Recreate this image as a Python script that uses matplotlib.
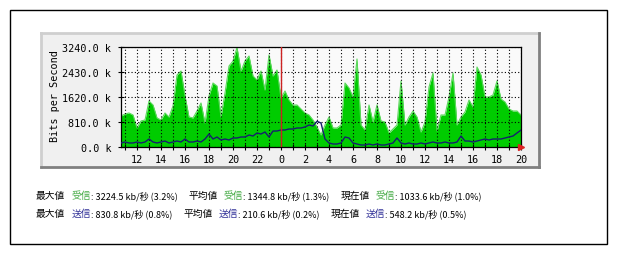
import numpy as np
import matplotlib.pyplot as plt
from matplotlib.patches import Rectangle
from matplotlib.lines import Line2D

# 20分ごとのサンプル (10:40 から翌日 20:00 まで)
hours = np.arange(101) / 3 + 32 / 3

# 受信 (kb/s)
trafico_in = [1004, 1069, 1102, 1037, 616, 842, 875, 1490, 1361, 940, 875, 1102, 972, 1328, 2333, 2462, 1652, 972, 940, 1166, 1426, 778, 1652, 2074, 1976,
              972, 1750, 2624, 2786, 3224, 2462, 2786, 2948, 2300, 2171, 2462, 1847, 2981, 2300, 2495, 1588,
              1814, 1523, 1361, 1361, 1231, 1102, 1037, 875, 648,
              389, 713, 972, 616, 616, 713, 2074, 1912, 1620, 2851, 713, 551, 1361, 810, 1361, 842, 810, 454, 583, 713, 2138, 713, 972, 1166,
              972, 486, 810, 1944, 2398, 518, 1037, 1037, 1620, 2398, 713, 972, 1134, 1523, 1296, 2592, 2333, 1620, 1620, 1685, 2138, 1555, 1458, 1231, 1166, 1166, 1034]

# 送信 (kb/s)
trafico_out = [130, 162, 130, 130, 162, 130, 162, 259, 162, 130, 162, 194, 130, 162, 194, 162, 259, 162, 162, 194, 162, 259, 421, 259, 324,
               227, 259, 227, 292, 292, 324, 324, 389, 356, 454, 421, 486, 324, 518, 518, 551,
               551, 583, 583, 616, 616, 648, 713, 680, 831,
               778, 259, 130, 97, 97, 130, 324, 292, 130, 97, 65, 65, 97, 65, 97, 65, 65, 97, 130, 292, 130, 97, 130, 97,
               97, 130, 97, 130, 162, 130, 130, 162, 130, 130, 162, 356, 194, 194, 162, 194, 227, 259, 227, 259, 259, 259, 292, 324, 356, 454, 548]

y_ticks = [0, 810, 1620, 2430, 3240]
x_ticks = list(range(12, 45, 2))
medianoche = 24

# 統計テキスト
etiquetas = ['最大値', '平均値', '現在値']
in_vals = ['3224.5', '1344.8', '1033.6']
in_pct = ['3.2', '1.3', '1.0']
out_vals = ['830.8', '210.6', '548.2']
out_pct = ['0.8', '0.2', '0.5']

W, H = 620, 255
fig = plt.figure(figsize=(W / 100, H / 100), dpi=100)
fig.patch.set_facecolor('white')

def px(x, y):
    return x / W, 1 - y / H

# borde exterior
x0, y0 = px(10, 245)
fig.add_artist(Rectangle((x0, y0), 597 / W, 234 / H, transform=fig.transFigure,
                         fill=False, edgecolor='black', lw=1, zorder=-2))

# panel gris
x0, y0 = px(41, 168)
fig.add_artist(Rectangle((x0, y0), 498 / W, 134 / H, transform=fig.transFigure,
                         facecolor='#f0f0f0', edgecolor='none', zorder=-2))
for (a, b, c, d, col) in [(41, 34, 539, 34, '#cfcfcf'), (41, 34, 41, 168, '#cfcfcf'),
                          (41, 168, 539, 168, '#808080'), (539, 34, 539, 168, '#808080')]:
    p1, p2 = px(a, b), px(c, d)
    fig.add_artist(Line2D([p1[0], p2[0]], [p1[1], p2[1]], transform=fig.transFigure,
                          color=col, lw=2, zorder=-1))

ax = fig.add_axes([121 / W, 1 - 148 / H, 400 / W, 100 / H])
ax.set_zorder(5)
ax.set_facecolor('#fafafa')

ax.fill_between(hours, trafico_in, color='#00cc00', lw=0, zorder=2)
ax.plot(hours, trafico_in, color='#5cd85c', lw=0.8, zorder=2)
ax.plot(hours, trafico_out, color='#16206e', lw=1.0, zorder=3)

ax.set_xlim(hours[0], hours[-1])
ax.set_ylim(0, 3240)

ax.set_yticks(y_ticks)
ax.set_yticklabels([f'{v:.1f} k' for v in y_ticks])
ax.set_xticks(x_ticks)
ax.set_xticklabels([str(t % 24) for t in x_ticks])
ax.set_xticks(range(11, 45), minor=True)

mono = 'DejaVu Sans Mono'
for lab in ax.get_xticklabels() + ax.get_yticklabels():
    lab.set_family(mono)
    lab.set_fontsize(7.3)
ax.tick_params(axis='both', which='both', direction='inout', length=4, width=0.8, pad=3)
ax.tick_params(axis='y', pad=5)

ax.grid(True, which='both', axis='x', color='black', lw=0.8, ls=(0, (1, 2)), zorder=4)
ax.grid(True, which='major', axis='y', color='black', lw=0.8, ls=(0, (1, 2)), zorder=4)
ax.set_axisbelow(False)
ax.axvline(medianoche, color='#cc2222', lw=1, zorder=5)
for s in ax.spines.values():
    s.set_color('black')
    s.set_linewidth(0.9)

# flecha roja
ax.plot([ax.get_xlim()[1]], [0], marker='>', color='#dd2222', markersize=5, clip_on=False, zorder=6)

fig.text(*px(55, 96), 'Bits per Second', rotation=90, family=mono, fontsize=7.3,
         ha='center', va='center')

# estadisticas, colocadas una tras otra
jp = ['Noto Sans CJK JP', 'DejaVu Sans']
renderer = fig.canvas.get_renderer()

def poner(x, y, s, **kw):
    t = fig.text(*px(x, y), s, va='center', **kw)
    bb = t.get_window_extent(renderer)
    return x + bb.width

filas = [(196, '受信', '#44aa44', in_vals, in_pct),
         (214, '送信', '#333399', out_vals, out_pct)]
for (yy, palabra, color, vals, pcts) in filas:
    x = 36
    for et, v, p in zip(etiquetas, vals, pcts):
        x = poner(x, yy, et, family=jp, fontsize=7.0)
        x = poner(x + 6, yy, palabra, family=jp, fontsize=7.0, color=color)
        x = poner(x, yy, f': {v} kb/秒 ({p}%)', family=jp, fontsize=6.5)
        x += 11

fig.savefig('out.png', dpi=100)
